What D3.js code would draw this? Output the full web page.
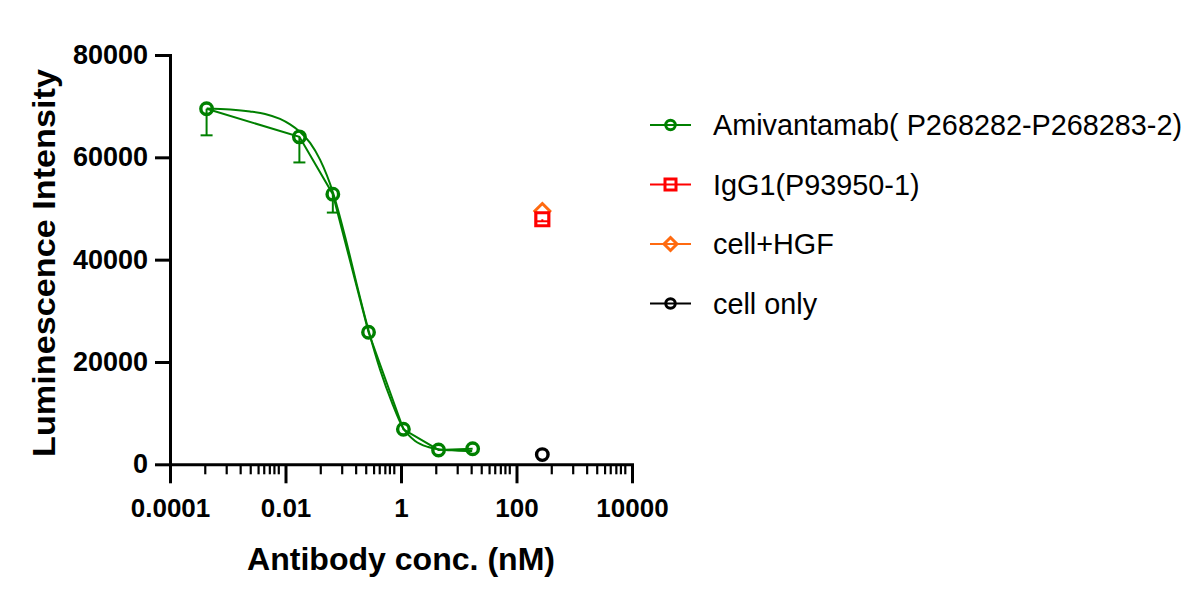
<!DOCTYPE html>
<html><head><meta charset="utf-8">
<script src="https://cdn.jsdelivr.net/npm/d3@7/dist/d3.min.js"></script>
<style>body{margin:0;background:#fff} svg{display:block}</style>
</head><body><svg id="chart" width="1198" height="592"></svg>
<script>
// ---- data ----
const amiConc    = [0.00043, 0.0174, 0.066, 0.274, 1.10, 4.47, 17.4];
const amiMean    = [69500, 64000, 52800, 25800, 6850, 2800, 3050];
const amiErrLow  = [5200, 5000, 3600, 0, 0, 0, 0];
// fitted curve as traced on the picture
const fitConc = [0.000433, 0.0011, 0.00243, 0.00443, 0.00805, 0.012, 0.0179, 0.0267, 0.0398, 0.0668, 0.108, 0.174, 0.273, 0.436, 0.703, 1.09, 1.76, 2.96, 4.78, 8.69, 17.1];
const fitVal  = [69560, 69360, 68970, 68480, 67500, 66430, 64960, 62810, 59490, 53040, 44440, 34860, 26260, 18440, 11980, 7100, 4560, 3380, 2890, 2700, 2600];
const ctrlConc   = [280];
const iggVal     = [47900];
const iggErrLow  = [400];
const hgfVal     = [49500];
const cellOnlyVal= [1900];

const xTickValues = [1e-4, 1e-2, 1, 100, 10000];
const xTickLabels = ["0.0001", "0.01", "1", "100", "10000"];
const minorMultipliers = [4, 9.4, 16.4, 24.5, 33.5, 42, 52.5, 63, 75];
const yTickValues = [0, 20000, 40000, 60000, 80000];
const yTickLabels = ["0", "20000", "40000", "60000", "80000"];

const legendNames  = ["Amivantamab( P268282-P268283-2)", "IgG1(P93950-1)", "cell+HGF", "cell only"];
const legendColors = ["#008000", "#ff0000", "#ff6a10", "#000000"];
const legendShapes = ["circle", "square", "diamond", "circle"];

const xTitle = "Antibody conc. (nM)";
const yTitle = "Luminescence Intensity";

// ---- drawing ----
const svg = d3.select("#chart");
const boldFont = "'Liberation Sans', Arial, Helvetica, sans-serif";

const x = d3.scaleLog().domain([1e-4, 1e4]).range([170, 632]);
const y = d3.scaleLinear().domain([0, 80000]).range([464.3, 55]);

const minorTicks = [];
xTickValues.slice(0, -1).forEach(m => minorMultipliers.forEach(k => minorTicks.push(m * k)));

// minor ticks
const gMinor = svg.append("g").attr("transform", `translate(0,${y(0)})`)
  .call(d3.axisBottom(x).tickValues(minorTicks).tickSize(10).tickSizeOuter(0).tickFormat(""));
gMinor.select(".domain").remove();
gMinor.selectAll(".tick line").attr("stroke", "#000").attr("stroke-width", 2.2);

// x axis
const gx = svg.append("g").attr("transform", `translate(0,${y(0)})`)
  .call(d3.axisBottom(x).tickValues(xTickValues).tickSize(19).tickSizeOuter(0).tickPadding(15)
        .tickFormat((d, i) => xTickLabels[i]));
gx.select(".domain").attr("stroke", "#000").attr("stroke-width", 3).attr("stroke-linecap", "square");
gx.selectAll(".tick line").attr("stroke", "#000").attr("stroke-width", 3);
gx.selectAll(".tick text").attr("fill", "#000").style("font-family", boldFont)
  .style("font-size", "26px").style("font-weight", "bold");

// y axis
const gy = svg.append("g").attr("transform", `translate(${x(1e-4)},0)`)
  .call(d3.axisLeft(y).tickValues(yTickValues).tickSize(15).tickSizeOuter(0).tickPadding(7)
        .tickFormat((d, i) => yTickLabels[i]));
gy.select(".domain").attr("stroke", "#000").attr("stroke-width", 3).attr("stroke-linecap", "square");
gy.selectAll(".tick line").attr("stroke", "#000").attr("stroke-width", 3);
gy.selectAll(".tick text").attr("fill", "#000").style("font-family", boldFont)
  .style("font-size", "27px").style("font-weight", "bold");

// titles
svg.append("text").attr("x", 401).attr("y", 570).attr("text-anchor", "middle")
  .style("font-family", boldFont).style("font-size", "32px").style("font-weight", "bold")
  .attr("textLength", 308).attr("lengthAdjust", "spacingAndGlyphs")
  .text(xTitle);
svg.append("text").attr("transform", "translate(55,263) rotate(-90)").attr("text-anchor", "middle")
  .style("font-family", boldFont).style("font-size", "31px").style("font-weight", "bold")
  .attr("textLength", 388).attr("lengthAdjust", "spacingAndGlyphs")
  .text(yTitle);

// marker helpers
function shapePath(shape, s) {
  const h = s / 2;
  if (shape === "square") return `M${-h},${-h}H${h}V${h}H${-h}Z`;
  if (shape === "diamond") return `M0,${-h}L${h},0L0,${h}L${-h},0Z`;
  return `M${h},0A${h},${h} 0 1,1 ${-h},0A${h},${h} 0 1,1 ${h},0Z`;
}

const green = legendColors[0];
const amiData = amiConc.map((c, i) => ({c, v: amiMean[i], e: amiErrLow[i]}));
const fitData = fitConc.map((c, i) => ({c, v: fitVal[i]}));

// fitted curve
svg.append("path").datum(fitData)
  .attr("d", d3.line().x(d => x(d.c)).y(d => y(d.v)).curve(d3.curveMonotoneX))
  .attr("fill", "none").attr("stroke", green).attr("stroke-width", 2);
// connecting line
svg.append("path").datum(amiData)
  .attr("d", d3.line().x(d => x(d.c)).y(d => y(d.v)))
  .attr("fill", "none").attr("stroke", green).attr("stroke-width", 2);

// error bars (below only)
function errBars(data, color) {
  const g = svg.append("g").attr("stroke", color).attr("stroke-width", 2);
  data.filter(d => d.e > 0).forEach(d => {
    g.append("line").attr("x1", x(d.c)).attr("x2", x(d.c)).attr("y1", y(d.v)).attr("y2", y(d.v - d.e));
    g.append("line").attr("x1", x(d.c) - 6).attr("x2", x(d.c) + 6).attr("y1", y(d.v - d.e)).attr("y2", y(d.v - d.e));
  });
}
errBars(amiData, green);

function markers(data, shape, color, size, sw) {
  svg.append("g").selectAll("path").data(data).join("path")
    .attr("transform", d => `translate(${x(d.c)},${y(d.v)})`)
    .attr("d", shapePath(shape, size))
    .attr("fill", "none").attr("stroke", color).attr("stroke-width", sw);
}
markers(amiData, "circle", green, 11.5, 3.4);

const hgfData = ctrlConc.map((c, i) => ({c, v: hgfVal[i]}));
const iggData = ctrlConc.map((c, i) => ({c, v: iggVal[i], e: iggErrLow[i]}));
const coData  = ctrlConc.map((c, i) => ({c, v: cellOnlyVal[i]}));
markers(hgfData, "diamond", legendColors[2], 15, 3);
svg.append("g").selectAll("path").data(iggData).join("path")
  .attr("transform", d => `translate(${x(d.c)},${y(d.v)})`)
  .attr("d", shapePath("square", 13))
  .attr("fill", "#fff").attr("stroke", legendColors[1]).attr("stroke-width", 3.2);
errBars(iggData, legendColors[1]);
markers(coData, "circle", legendColors[3], 11.5, 3.4);

// legend
const legendY = [125, 184.5, 244, 303.5];
const lg = svg.append("g");
legendNames.forEach((name, i) => {
  const cy = legendY[i], col = legendColors[i];
  lg.append("line").attr("x1", 650).attr("x2", 691).attr("y1", cy).attr("y2", cy)
    .attr("stroke", col).attr("stroke-width", 2);
  const sz = legendShapes[i] === "diamond" ? 13 : (legendShapes[i] === "square" ? 11 : 9.5);
  lg.append("path").attr("transform", `translate(670.5,${cy})`)
    .attr("d", shapePath(legendShapes[i], sz))
    .attr("fill", "none").attr("stroke", col).attr("stroke-width", 3);
  lg.append("text").attr("x", 713).attr("y", cy + 10)
    .style("font-family", boldFont).style("font-size", "28.8px").attr("fill", "#000")
    .text(name);
});
</script>
</body></html>
